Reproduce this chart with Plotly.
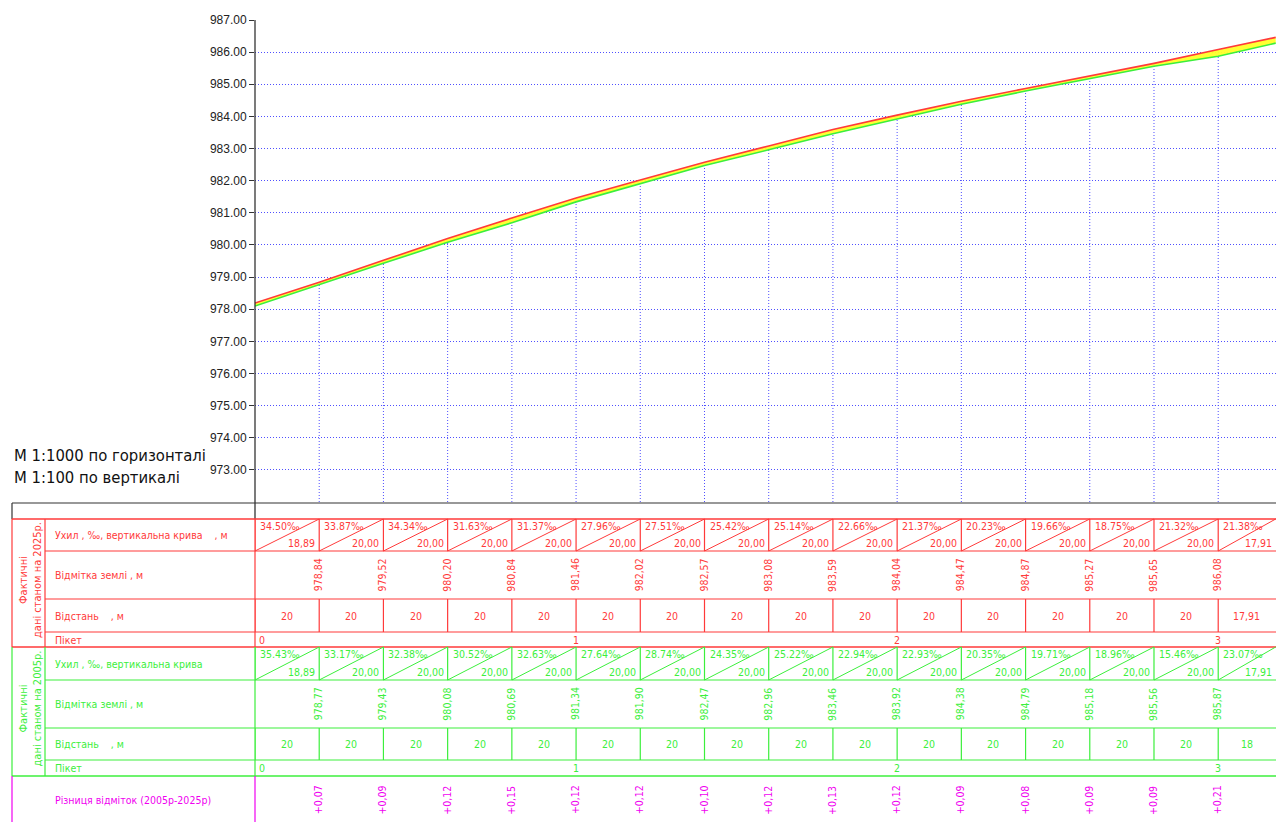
import plotly.graph_objects as go

W, H = 1276, 822

# ---- profile data -------------------------------------------------------
stations = [0, 20, 40, 60, 80, 100, 120, 140, 160, 180, 200,
            220, 240, 260, 280, 300, 317.91]
pickets = [0, 1, 2, 3]

# ground elevations along the route (first/last = section ends)
elev_2025 = [978.19, 978.84, 979.52, 980.20, 980.84, 981.46, 982.02, 982.57,
             983.08, 983.59, 984.04, 984.47, 984.87, 985.27, 985.65, 986.08,
             986.46]
elev_2005 = [978.10, 978.77, 979.43, 980.08, 980.69, 981.34, 981.90, 982.47,
             982.96, 983.46, 983.92, 984.38, 984.79, 985.18, 985.56, 985.87,
             986.28]

slope_2025 = [34.50, 33.87, 34.34, 31.63, 31.37, 27.96, 27.51, 25.42,
              25.14, 22.66, 21.37, 20.23, 19.66, 18.75, 21.32, 21.38]
slope_2005 = [35.43, 33.17, 32.38, 30.52, 32.63, 27.64, 28.74, 24.35,
              25.22, 22.94, 22.93, 20.35, 19.71, 18.96, 15.46, 23.07]

seg_len = ["18,89", "20,00", "20,00", "20,00", "20,00", "20,00", "20,00",
           "20,00", "20,00", "20,00", "20,00", "20,00", "20,00", "20,00",
           "20,00", "17,91"]
dist_2025 = ["20", "20", "20", "20", "20", "20", "20", "20", "20", "20",
             "20", "20", "20", "20", "20", "17,91"]
dist_2005 = ["20", "20", "20", "20", "20", "20", "20", "20", "20", "20",
             "20", "20", "20", "20", "20", "18"]

y_ticks = [973, 974, 975, 976, 977, 978, 979, 980, 981, 982, 983, 984,
           985, 986, 987]

# ---- colours / fonts ----------------------------------------------------
RED = "#ff3a3a"
GREEN = "#3cef3c"
MAG = "#f000f0"
BLUE = "#5050ff"
INK = "#333333"
DOTS = "1px,2px"
CAD = "Liberation Sans Narrow, DejaVu Sans Condensed, Roboto Condensed, Arial Narrow, sans-serif"


def px(x):
    return x / W


def py(y):
    return 1 - y / H


shapes = []
annotations = []


def line(x0, y0, x1, y1, color, xref="paper", width=1.2, dash=None):
    d = dict(type="line", xref=xref, yref="paper",
             x0=x0 if xref != "paper" else px(x0), x1=x1 if xref != "paper" else px(x1),
             y0=py(y0), y1=py(y1), line=dict(color=color, width=width))
    if dash:
        d["line"]["dash"] = dash
    shapes.append(d)


def text(x, y, s, color, size=10.5, xref="paper", xanchor="center",
         angle=0, xshift=0, family=CAD):
    annotations.append(dict(
        x=x if xref != "paper" else px(x), y=py(y), xref=xref, yref="paper",
        text=s, showarrow=False, xanchor=xanchor, yanchor="middle",
        textangle=angle, xshift=xshift, font=dict(family=family, size=size, color=color)))


fig = go.Figure()

# ground lines with the band between them
fig.add_trace(go.Scatter(x=stations, y=elev_2005, mode="lines",
                         line=dict(color=GREEN, width=1.6), hoverinfo="skip"))
fig.add_trace(go.Scatter(x=stations, y=elev_2025, mode="lines", fill="tonexty",
                         fillcolor="rgba(255,255,40,0.95)",
                         line=dict(color=RED, width=1.6), hoverinfo="skip"))

# dotted drop lines from the ground line down to the bottom of the plot
for s, e in zip(stations[1:-1], elev_2005[1:-1]):
    shapes.append(dict(type="line", xref="x", yref="y", x0=s, x1=s, y0=972, y1=e,
                       line=dict(color=BLUE, width=1, dash=DOTS), layer="below"))

# vertical axis line continuing into the header row
line(255, 20, 255, 519, INK, width=1.3)

# ---- table ----------------------------------------------------------------
L, C1, C2, R = 12, 45, 255, W

# empty header row
line(L, 503, R, 503, INK, width=1.2)
line(L, 503, L, 519, INK, width=1.2)


def section(rows, color, slopes, lens, elevs, dists, slope_label, year, first_line):
    top, r1, r2, r3, bot = rows
    # outer frame and row dividers
    if first_line:
        line(L, top, R, top, color, width=1.4)
    line(L, bot, R, bot, color, width=1.4)
    line(L, top, L, bot, color)
    line(C1, top, C1, bot, color)
    line(C2, top, C2, bot, color)
    for r in (r1, r2, r3):
        line(C1, r, R, r, color)
    # gradient row: cells with diagonals
    for i in range(len(slopes)):
        a, b = stations[i], stations[i + 1]
        line(a, top, a, r1, color, xref="x")
        line(a, r1, b, top, color, xref="x", width=1)
        text(a, top + 7, f"{slopes[i]:.2f}‰", color, xref="x", xanchor="left", xshift=3)
        text(b, r1 - 8, lens[i], color, xref="x", xanchor="right", xshift=-2)
    # elevations
    for s, e in zip(stations[1:-1], elevs[1:-1]):
        text(s, (r1 + r2) / 2, f"{e:.2f}".replace(".", ","), color, xref="x",
             angle=-90, xshift=-1)
    # distances
    for i in range(len(dists)):
        a, b = stations[i], stations[i + 1]
        line(a, r2, a, r3, color, xref="x")
        text((a + b) / 2, (r2 + r3) / 2, dists[i], color, xref="x")
    # pickets
    for p in pickets:
        text(p * 100, (r3 + bot) / 2, str(p), color, xref="x",
             xanchor="left" if p == 0 else "center", xshift=2 if p == 0 else 0)
    # row titles
    text(53, (top + r1) / 2, slope_label, color, xanchor="left")
    text(53, (r1 + r2) / 2, "Відмітка землі , м", color, xanchor="left")
    text(53, (r2 + r3) / 2, "Відстань    , м", color, xanchor="left")
    text(53, (r3 + bot) / 2, "Пікет", color, xanchor="left")
    text(30, (top + bot) / 2 - 3, f"Фактичні<br>дані станом на {year}р.", color,
         angle=-90, size=11)


section([519, 551, 599, 632, 647], RED, slope_2025, seg_len, elev_2025, dist_2025,
        "Ухил , ‰, вертикальна крива    , м", 2025, True)
section([647, 680, 728, 760, 776], GREEN, slope_2005, seg_len, elev_2005, dist_2005,
        "Ухил , ‰, вертикальна крива", 2005, False)

# elevation differences between surveys
line(L, 776, L, H, MAG)
line(C2, 776, C2, H, MAG)
text(53, 800, "Різниця відміток (2005р-2025р)", MAG, xanchor="left")
for s, a, b in zip(stations[1:-1], elev_2025[1:-1], elev_2005[1:-1]):
    text(s, 800, f"+{a - b:.2f}".replace(".", ","), MAG, xref="x", angle=-90, xshift=-1)

# scale note
text(12, 455, "М 1:1000 по горизонталі", "#111111", size=16.5, xanchor="left")
text(12, 477, "М 1:100 по вертикалі", "#111111", size=16.5, xanchor="left")

fig.update_layout(
    width=W, height=H,
    margin=dict(l=0, r=0, t=0, b=0, autoexpand=False),
    paper_bgcolor="white", plot_bgcolor="white",
    showlegend=False,
    shapes=shapes, annotations=annotations,
    xaxis=dict(domain=[px(255), 1], range=[0, 318], visible=False,
               showgrid=False, zeroline=False, automargin=False),
    yaxis=dict(domain=[py(502), py(20)], range=[972, 987],
               tickvals=y_ticks, tickformat=".2f", automargin=False,
               ticks="outside", ticklen=5, tickcolor=INK, tickwidth=1,
               tickfont=dict(family="Liberation Sans, Arial, sans-serif", size=12, color="#222222"),
               showgrid=True, gridcolor=BLUE, gridwidth=1, griddash=DOTS,
               zeroline=False, showline=False),
)

fig.write_html("out.html")
